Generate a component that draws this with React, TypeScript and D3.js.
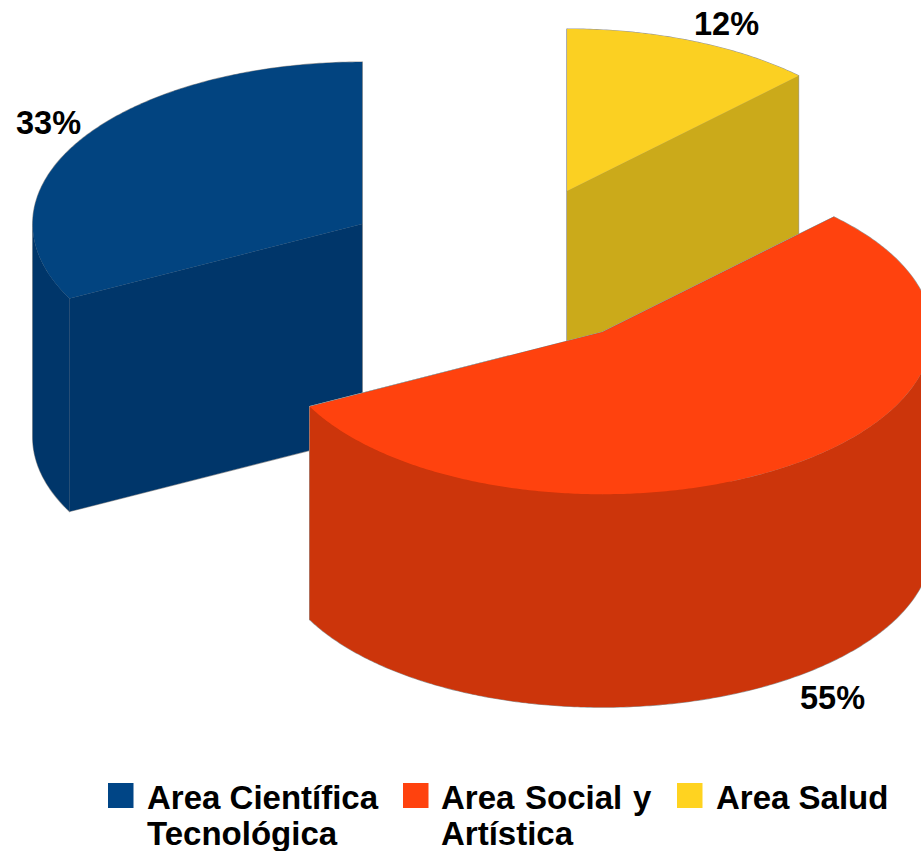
import React from "react";
import * as d3 from "d3";

const categories = ["Area Científica Tecnológica", "Area Social y Artística", "Area Salud"];
const legendLines = [["Area Científica", "Tecnológica"], ["Area Social y", "Artística"], ["Area Salud"]];
const values = [32.6, 55, 12.4];
const labels = ["33%", "55%", "12%"];
const topColors = ["#024480", "#ff420e", "#fbd022"];
const swatchColors = ["#004586", "#ff420e", "#ffd320"];
const wallColors = ["#00366a", "#cc350b", "#cbaa1a"];

const W = 921, H = 851;
const CX = 504, CY = 266.5, RX = 329.5, RY = 162, EXPLODE = 166, DEPTH = 213;
const FONT = "'Liberation Sans', Arial, sans-serif";
const labelPos = [[16, 134], [800, 709], [694, 35]];
const legendSwatchX = [108, 403, 677];
const legendTextX = [147, 441, 716];

const sx = d3.scaleLinear().domain([-1, 1]).range([-RX, RX]);
const sy = d3.scaleLinear().domain([-1, 1]).range([-RY, RY]);
const line = d3.line<[number, number]>().curve(d3.curveLinear);

const pieGen = d3.pie<number>().sort(null).value((d) => d).startAngle(2 * Math.PI).endAngle(0);

function sampleAngles(a0: number, a1: number) {
  const n = Math.max(2, Math.ceil((a1 - a0) / 0.01));
  return d3.range(n + 1).map((i) => a0 + ((a1 - a0) * i) / n);
}

export default function App() {
  const arcs = pieGen(values).map((p, i) => {
    const a0 = Math.min(p.startAngle, p.endAngle);
    const a1 = Math.max(p.startAngle, p.endAngle);
    const mid = (a0 + a1) / 2;
    const cx = CX + EXPLODE * Math.sin(mid);
    const cy = CY - (EXPLODE * Math.cos(mid) * RY) / RX;
    const pt = (a: number, dz = 0): [number, number] => [
      cx + sx(Math.sin(a)),
      cy + sy(-Math.cos(a)) + dz,
    ];
    const top = line([[cx, cy], ...sampleAngles(a0, a1).map((a) => pt(a))])! + "Z";
    // the outer wall is only seen on the near half of the rim
    const f0 = Math.max(a0, Math.PI / 2);
    const f1 = Math.min(a1, (3 * Math.PI) / 2);
    let outer = "";
    if (f1 > f0) {
      const near = sampleAngles(f0, f1);
      outer = line([...near.map((a) => pt(a)), ...near.slice().reverse().map((a) => pt(a, DEPTH))])! + "Z";
    }
    const radial = (a: number) => line([[cx, cy], pt(a), pt(a, DEPTH), [cx, cy + DEPTH]])! + "Z";
    return { i, cy, paths: [radial(a0), radial(a1), outer].filter(Boolean), top };
  });
  const ordered = [...arcs].sort((a, b) => d3.ascending(a.cy, b.cy));

  return (
    <svg
      width={W}
      height={H}
      viewBox={`0 0 ${W} ${H}`}
      style={{ position: "absolute", left: 0, top: 0, display: "block", background: "#fff" }}
    >
      {ordered.map((s) => (
        <g key={s.i}>
          {[...s.paths, s.top].map((d, k) => (
            <path key={k} d={d} fill="none" stroke="#9a9a9a" strokeWidth={1.2} strokeLinejoin="round" />
          ))}
          {s.paths.map((d, k) => (
            <path key={k} d={d} fill={wallColors[s.i]} />
          ))}
          <path d={s.top} fill={topColors[s.i]} />
        </g>
      ))}
      {labels.map((t, i) => (
        <text key={t} x={labelPos[i][0]} y={labelPos[i][1]} fontFamily={FONT} fontWeight="700" fontSize={32.5} fill="#000">
          {t}
        </text>
      ))}
      {categories.map((c, i) => (
        <g key={c}>
          <rect x={legendSwatchX[i]} y={783} width={25.5} height={25} fill={swatchColors[i]} />
          {legendLines[i].map((l, j) => (
            <text key={l} x={legendTextX[i]} y={809 + j * 36} fontFamily={FONT} fontWeight="700" fontSize={33} wordSpacing={i === 1 && j === 0 ? 1.5 : 0} fill="#000">
              {l}
            </text>
          ))}
        </g>
      ))}
    </svg>
  );
}
